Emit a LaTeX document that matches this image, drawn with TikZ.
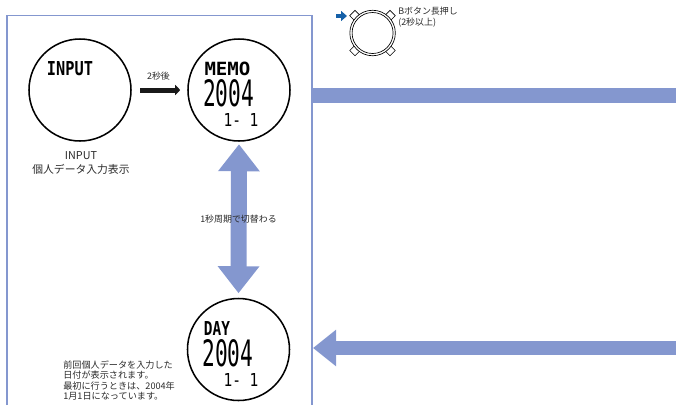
\documentclass[tikz,border=0pt]{standalone}
\usepackage{fontspec}
\usepackage{graphicx}
\setmainfont{Noto Sans CJK JP}
\newfontfamily\lcdfam{DejaVu Sans Mono}
\newcommand{\lcdbold}{\lcdfam\bfseries}
\newcommand{\lcdthin}{\lcdfam}
\usetikzlibrary{arrows.meta}
\definecolor{bandblue}{HTML}{8497CF}
\definecolor{markblue}{HTML}{1560A8}
\definecolor{inktext}{HTML}{2A2A2A}
\newcommand{\lcd}[4]{\resizebox{\dimexpr #2pt*3/4\relax}{\dimexpr #3pt*3/4\relax}{#1{}#4}}
\tikzset{
  dial/.style={circle,draw=black,line width=1.15pt,minimum size=102*0.75pt,inner sep=0pt},
  lab/.style={font=\fontsize{6.7pt}{8.2pt}\selectfont,text=inktext,inner sep=0pt,align=left},
  note/.style={font=\fontsize{6.85pt}{7.95pt}\selectfont,text=inktext,inner sep=0pt,align=left},
  captext/.style={font=\fontsize{8.1pt}{10.4pt}\selectfont,text=inktext,inner sep=0pt,align=center},
  seg/.style={inner sep=0pt,text=black},
  band/.style={draw=bandblue,line width=15*0.75pt},
  btn/.style={draw=black,fill=white,line width=0.45pt,minimum size=7.5*0.75pt,inner sep=0pt,rotate=45},
}
\begin{document}
\begin{tikzpicture}[x=0.75pt,y=-0.75pt]
\useasboundingbox (0,0) rectangle (676,405);
\draw[bandblue,line width=1.2pt] (7,405) -- (7,15.5) -- (312,15.5) -- (312,405);
% dials
\node[dial] (input) at (80,90) {};
\node[dial] (memo) at (239,90) {};
\node[dial] (day) at (238.5,349.5) {};
% LCD text
\node[seg] (t1) at (70,69) {\lcd{\lcdbold}{46}{14}{INPUT}};
\node[seg] (t2) at (227.5,68.5) {\lcd{\lcdbold}{46}{13.5}{MEMO}};
\node[seg] (t3) at (228.5,93) {\lcd{\lcdthin}{51}{27}{2004}};
\node[seg] (t4) at (241,119.5) {\lcd{\lcdthin}{35}{13}{1- 1}};
\node[seg] (t5) at (217,328) {\lcd{\lcdbold}{26}{14}{DAY}};
\node[seg] (t6) at (228,353) {\lcd{\lcdthin}{51}{27}{2004}};
\node[seg] (t7) at (241,379.5) {\lcd{\lcdthin}{35}{13}{1- 1}};
% captions
\node[captext] (c1) at (81,163) {INPUT\\個人データ入力表示};
\node[lab] (c2) at (158.5,76.5) {2秒後};
\coordinate (c3at) at (238.5,219.5);
% connectors
\draw[line width=5*0.75pt,black!90,-{Triangle[length=5*0.75pt,width=10*0.75pt]},shorten >=7*0.75pt,shorten <=8.5*0.75pt] (input.east) -- (memo.west);
\draw[draw=bandblue,line width=16*0.75pt,{Triangle[length=27*0.75pt,width=40*0.75pt,fill=bandblue]}-{Triangle[length=27*0.75pt,width=40*0.75pt,fill=bandblue]},shorten <=2.5*0.75pt,shorten >=4.5*0.75pt] (memo.south) -- (day.north);
\coordinate (r1) at (313,95.5);
\coordinate (r2) at (676,95.5);
\coordinate (r3) at (676,348);
\coordinate (r4) at (313,348);
\draw[band] (r1) -- (r2);
\draw[draw=bandblue,line width=14*0.75pt,-{Triangle[length=23*0.75pt,width=35*0.75pt,fill=bandblue]}] (r3) -- (r4);
\node[lab] (c3) at (c3at) {1秒周期で切替わる};
\node[note,anchor=west] (c4) at (63,380.5) {前回個人データを入力した\\日付が表示されます。\\最初に行うときは、2004年\\1月1日になっています。};
\node[lab,anchor=west] (c5) at (398,17) {Bボタン長押し\\(2秒以上)};
% watch icon
\node[btn] (b1) at (355,15.7) {};
\node[btn] (b2) at (390,15.7) {};
\node[btn] (b3) at (355,50.5) {};
\node[btn] (b4) at (390,50.5) {};
\node[circle,draw=black,fill=white,line width=0.5pt,minimum size=45.5*0.75pt,inner sep=0pt] (w) at (372.6,33) {};
\node[circle,draw=black,line width=0.5pt,minimum size=41*0.75pt,inner sep=0pt] (w2) at (372.6,33) {};
\coordinate (m1) at (336,16);
\coordinate (m2) at (347,16);
\draw[markblue,line width=4*0.75pt,-{Triangle[length=6*0.75pt,width=10*0.75pt]}] (m1) -- (m2);
\end{tikzpicture}
\end{document}
